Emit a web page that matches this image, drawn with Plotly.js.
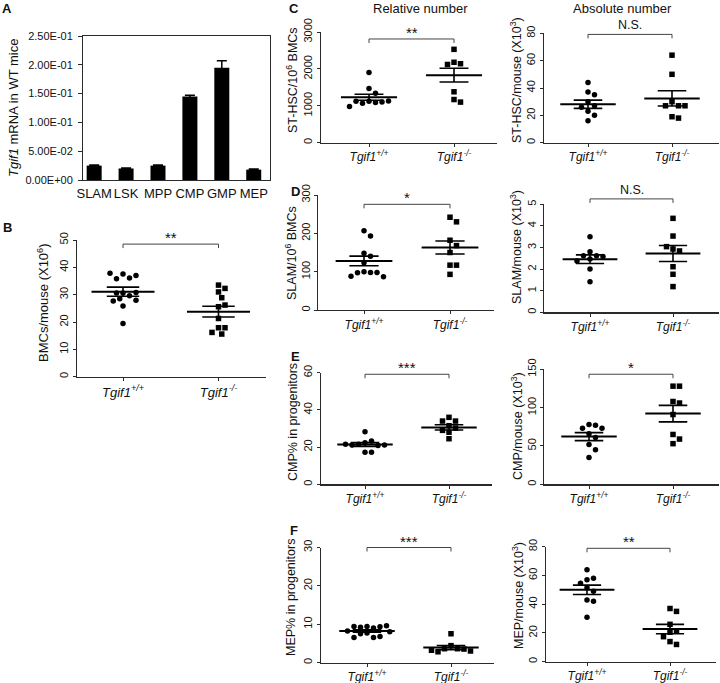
<!DOCTYPE html>
<html><head><meta charset="utf-8">
<script src="https://cdn.plot.ly/plotly-3.0.1.min.js"></script>
<style>html,body{margin:0;padding:0;background:#fff}#chart{width:720px;height:683px}</style>
</head><body><div id="chart"></div>
<script>
// ================= DATA =================
// Panel A: Tgif1 mRNA in WT mice
const cellTypes = ['SLAM', 'LSK', 'MPP', 'CMP', 'GMP', 'MEP'];
const tgif1mRNA = [0.025, 0.020, 0.025, 0.145, 0.195, 0.018];
const tgif1mRNAErr = [0.001, 0.001, 0.001, 0.002, 0.012, 0.001];
const mrnaTickVals = [0, 0.05, 0.10, 0.15, 0.20, 0.25];
const mrnaTickText = ['0.00E+00', '5.00E-02', '1.00E-01', '1.50E-01', '2.00E-01', '2.50E-01'];

const genotypes = ['<i>Tgif1<sup>+/+</sup></i>', '<i>Tgif1<sup>-/-</sup></i>'];

// Panel B: BMCs/mouse (x10^6)
const bmcWT = [37.6, 36.1, 35.8, 37.0, 37.8, 30.6, 29.6, 30.6, 30.8, 28.5, 27.7, 28.0, 25.9, 19.5];
const bmcKO = [33.5, 32.3, 31.0, 28.9, 25.6, 26.2, 21.3, 17.9, 17.9, 15.6, 16.2];
const bmcMean = [31.1, 23.8];
const bmcSEM = [1.65, 1.95];

// Panel C: ST-HSC
const sthscRelWT = [1900, 1470, 1340, 1120, 1090, 1070, 1100, 1120, 1130, 980];
const sthscRelKO = [2530, 2180, 2140, 2120, 1380, 1170, 1100];
const sthscRelMean = [1233, 1831];
const sthscRelSEM = [82, 185];
const sthscAbsWT = [44, 37, 35, 30, 27, 26, 23, 20, 16];
const sthscAbsKO = [64, 50, 30, 27, 27, 27, 19, 18];
const sthscAbsMean = [28.1, 32.4];
const sthscAbsSEM = [3.0, 5.6];

// Panel D: SLAM
const slamRelWT = [207, 193, 148, 140, 123, 100, 98, 97, 98, 88, 87];
const slamRelKO = [242, 230, 182, 168, 150, 117, 117, 93];
const slamRelMean = [128, 163];
const slamRelSEM = [12.5, 17];
const slamAbsWT = [3.5, 2.8, 2.62, 2.62, 2.58, 2.47, 2.38, 2.0, 1.42];
const slamAbsKO = [4.35, 3.53, 2.93, 2.84, 3.04, 2.11, 1.76, 1.19];
const slamAbsMean = [2.46, 2.72];
const slamAbsSEM = [0.2, 0.37];

// Panel E: CMP
const cmpRelWT = [28.3, 22.4, 23.3, 21.5, 20.8, 21.1, 21.1, 21.5, 17.2, 17.2];
const cmpRelKO = [36, 34, 34, 31.5, 30.2, 29, 28, 24.5];
const cmpRelMean = [21.4, 30.6];
const cmpRelSEM = [1.0, 1.4];
const cmpAbsWT = [78, 77, 73, 73, 66, 61, 52, 45, 35];
const cmpAbsKO = [128, 128, 108, 106, 91, 65, 59, 53];
const cmpAbsMean = [62.2, 92.2];
const cmpAbsSEM = [5.2, 10.8];

// Panel F: MEP
const mepRelWT = [9.4, 9.0, 9.2, 9.3, 9.4, 9.6, 8.2, 8.0, 7.7, 7.5, 6.5, 6.8, 6.5];
const mepRelKO = [7.5, 4.4, 3.6, 3.6, 3.5, 2.8, 3.0, 3.2];
const mepRelMean = [8.2, 3.9];
const mepRelSEM = [0.3, 0.55];
const mepAbsWT = [64, 57, 58, 54.5, 51.5, 49, 43, 42, 31];
const mepAbsKO = [37, 35, 26, 20.5, 21.3, 17.4, 14, 12];
const mepAbsMean = [50, 22.7];
const mepAbsSEM = [3.3, 3.3];

// ================= LAYOUT / STYLE =================
const W = 720, H = 683;
const FONT = 'Arial, "Liberation Sans", Helvetica, sans-serif';
const INK = '#111';
const LINE = '#2a2a2a';

const panels = [
  {n: 2, wt: bmcWT, ko: bmcKO, mean: bmcMean, sem: bmcSEM, sig: '**', title: 'BMCs/mouse (X10<sup>6</sup>)',
   g: {x0: 77, t0: 123, t1: 218.5, x1: 265.5, yT: 240, yB: 376.7, ymax: 50, dt: 10}, br: 0.97, tx: 43, ty: 303, big: true},
  {n: 3, wt: sthscRelWT, ko: sthscRelKO, mean: sthscRelMean, sem: sthscRelSEM, sig: '**', title: 'ST-HSC/10<sup>6</sup> BMCs',
   g: {x0: 321, t0: 369, t1: 454, x1: 497, yT: 32, yB: 142.7, ymax: 3000, dt: 1000}, br: 0.937, tx: 292, ty: 80},
  {n: 4, wt: sthscAbsWT, ko: sthscAbsKO, mean: sthscAbsMean, sem: sthscAbsSEM, sig: 'N.S.', title: 'ST-HSC/mouse (X10<sup>3</sup>)',
   g: {x0: 544, t0: 588, t1: 672, x1: 719, yT: 33.3, yB: 142.7, ymax: 80, dt: 20}, br: 0.99, tx: 516, ty: 80},
  {n: 5, wt: slamRelWT, ko: slamRelKO, mean: slamRelMean, sem: slamRelSEM, sig: '*', title: 'SLAM/10<sup>6</sup> BMCs',
   g: {x0: 318.3, t0: 364, t1: 450, x1: 494, yT: 195, yB: 310, ymax: 300, dt: 100}, br: 0.919, tx: 291, ty: 253},
  {n: 6, wt: slamAbsWT, ko: slamAbsKO, mean: slamAbsMean, sem: slamAbsSEM, sig: 'N.S.', title: 'SLAM/mouse (X10<sup>3</sup>)',
   g: {x0: 544.3, t0: 590, t1: 673, x1: 719, yT: 204.3, yB: 312.3, ymax: 5, dt: 1}, br: 1.05, tx: 516, ty: 247},
  {n: 7, wt: cmpRelWT, ko: cmpRelKO, mean: cmpRelMean, sem: cmpRelSEM, sig: '***', title: 'CMP% in progenitors',
   g: {x0: 321, t0: 365, t1: 449, x1: 492, yT: 372.7, yB: 484.3, ymax: 60, dt: 20}, br: 0.986, tx: 293, ty: 422},
  {n: 8, wt: cmpAbsWT, ko: cmpAbsKO, mean: cmpAbsMean, sem: cmpAbsSEM, sig: '*', title: 'CMP/mouse (X10<sup>3</sup>)',
   g: {x0: 544.3, t0: 589, t1: 673, x1: 719, yT: 369.3, yB: 484.3, ymax: 150, dt: 50}, br: 0.957, tx: 517, ty: 426},
  {n: 9, wt: mepRelWT, ko: mepRelKO, mean: mepRelMean, sem: mepRelSEM, sig: '***', title: 'MEP% in progenitors',
   g: {x0: 321, t0: 367, t1: 451, x1: 494, yT: 547.5, yB: 662.5, ymax: 30, dt: 10}, br: 1.0, tx: 291, ty: 598},
  {n: 10, wt: mepAbsWT, ko: mepAbsKO, mean: mepAbsMean, sem: mepAbsSEM, sig: '**', title: 'MEP/mouse (X10<sup>3</sup>)',
   g: {x0: 546, t0: 587, t1: 670, x1: 716, yT: 546.7, yB: 661.7, ymax: 80, dt: 20}, br: 0.986, tx: 518, ty: 596}
];

function paperAnn(text, xpx, ypx, font, extra) {
  return Object.assign({text: text, x: xpx / W, y: 1 - ypx / H, xref: 'paper', yref: 'paper',
    showarrow: false, xanchor: 'center', yanchor: 'middle', font: Object.assign({family: FONT, color: INK}, font)}, extra || {});
}

// simple beeswarm: spreads points horizontally so markers do not overlap (pixel space)
function swarm(vals, pxPerY, pxPerX, d) {
  const placed = [], offs = [];
  vals.forEach(v => {
    const y = v * pxPerY;
    let best = 0;
    for (let k = 0; k < 60; k++) {
      const c = k === 0 ? 0 : (k % 2 ? 1 : -1) * Math.ceil(k / 2) * d / 2;
      if (placed.every(p => (p.x - c) * (p.x - c) + (p.y - y) * (p.y - y) >= d * d)) { best = c; break; }
    }
    placed.push({x: best, y: y});
    offs.push(best / pxPerX);
  });
  return offs;
}

const traces = [];
const layout = {
  width: W, height: H, margin: {l: 0, r: 0, t: 0, b: 0},
  paper_bgcolor: '#fff', plot_bgcolor: 'rgba(0,0,0,0)', showlegend: false,
  font: {family: FONT, color: INK, size: 11},
  annotations: [], shapes: []
};

// ---- Panel A: bar chart ----
traces.push({
  type: 'bar', x: cellTypes, y: tgif1mRNA, xaxis: 'x', yaxis: 'y', width: 0.47,
  marker: {color: '#000', line: {width: 0}},
  error_y: {type: 'data', array: tgif1mRNAErr, visible: true, color: '#000', thickness: 1.5, width: 5}
});
layout.xaxis = {domain: [83 / W, 270 / W], range: [-0.35, 5.51], anchor: 'y', type: 'category',
  showline: true, mirror: true, linecolor: LINE, linewidth: 1, ticks: '', showgrid: false, zeroline: false,
  tickangle: 0, ticklabelstandoff: 1,
  tickfont: {size: 13, family: FONT, color: INK}, fixedrange: true};
layout.yaxis = {domain: [1 - 180 / H, 1 - 36 / H], range: [0, 0.25], anchor: 'x',
  showline: true, mirror: true, linecolor: LINE, linewidth: 1, ticks: 'outside', ticklen: 4, tickcolor: LINE,
  tickvals: mrnaTickVals, ticktext: mrnaTickText, showgrid: false, zeroline: false, ticklabelstandoff: 3,
  tickfont: {size: 11, family: FONT, color: INK}, fixedrange: true};
layout.annotations.push(paperAnn('<i>Tgif1</i> mRNA in WT mice', 13, 108, {size: 13}, {textangle: -90}));

// ---- Scatter panels ----
panels.forEach(p => {
  const g = p.g;
  const sp = g.t1 - g.t0;
  const xr = [(g.x0 - g.t0) / sp, 1 + (g.x1 - g.t1) / sp];
  const hPx = g.yB - g.yT;
  const pxPerY = hPx / g.ymax;
  const xa = 'x' + p.n, ya = 'y' + p.n;
  const d = 6.5;
  const wtOff = swarm(p.wt, pxPerY, sp, d);
  const koOff = swarm(p.ko, pxPerY, sp, d);
  const mk = (sym) => ({color: '#000', size: 5.5, symbol: sym, line: {width: 0}});
  traces.push({type: 'scatter', mode: 'markers', xaxis: xa, yaxis: ya, cliponaxis: false,
    x: wtOff.map(o => 0 + o), y: p.wt, marker: mk('circle'), name: 'Tgif1+/+'});
  traces.push({type: 'scatter', mode: 'markers', xaxis: xa, yaxis: ya, cliponaxis: false,
    x: koOff.map(o => 1 + o), y: p.ko, marker: mk('square'), name: 'Tgif1-/-'});
  const hw = 0.33;
  traces.push({type: 'scatter', mode: 'lines', xaxis: xa, yaxis: ya,
    x: [0 - hw, 0 + hw, null, 1 - hw, 1 + hw], y: [p.mean[0], p.mean[0], null, p.mean[1], p.mean[1]],
    line: {color: '#000', width: 2}, connectgaps: false});
  traces.push({type: 'scatter', mode: 'markers', xaxis: xa, yaxis: ya, x: [0, 1], y: p.mean,
    marker: {size: 1, opacity: 0},
    error_y: {type: 'data', array: p.sem, visible: true, color: '#000', thickness: 1.6, width: 0.17 * sp}});

  layout['xaxis' + p.n] = {domain: [g.x0 / W, g.x1 / W], range: xr, anchor: ya,
    showline: true, linecolor: LINE, linewidth: 1.2, ticks: 'outside', ticklen: 3, tickcolor: LINE,
    tickvals: [0, 1], ticktext: genotypes, showgrid: false, zeroline: false,
    tickfont: {size: p.big ? 13 : 12, family: FONT, color: INK}, fixedrange: true};
  layout['yaxis' + p.n] = {domain: [1 - g.yB / H, 1 - g.yT / H], range: [0, g.ymax], anchor: xa,
    showline: true, linecolor: LINE, linewidth: 1.2, ticks: 'outside', ticklen: 3, tickcolor: LINE,
    tick0: 0, dtick: g.dt, tickangle: -90, showgrid: false, zeroline: false,
    tickfont: {size: 11, family: FONT, color: INK}, fixedrange: true};

  // significance bracket
  const fx = i => (i - xr[0]) / (xr[1] - xr[0]);
  const drop = 4 / hPx;
  const sh = {type: 'line', xref: xa + ' domain', yref: ya + ' domain', line: {color: '#444', width: 1}};
  layout.shapes.push(Object.assign({}, sh, {x0: fx(0), x1: fx(1), y0: p.br, y1: p.br}));
  layout.shapes.push(Object.assign({}, sh, {x0: fx(0), x1: fx(0), y0: p.br, y1: p.br - drop}));
  layout.shapes.push(Object.assign({}, sh, {x0: fx(1), x1: fx(1), y0: p.br, y1: p.br - drop}));
  const isStar = p.sig.indexOf('*') >= 0;
  layout.annotations.push({text: p.sig, xref: xa + ' domain', yref: ya + ' domain', x: fx(0.5), y: p.br,
    showarrow: false, xanchor: 'center', yanchor: 'bottom', yshift: isStar ? -4 : 0,
    font: {family: FONT, color: INK, size: isStar ? 15 : 12.5}});

  layout.annotations.push(paperAnn(p.title, p.tx, p.ty, {size: p.big ? 13 : 12.5}, {textangle: -90}));
});

// Panel letters & headers
const bold = {size: 13};
layout.annotations.push(paperAnn('<b>A</b>', 7, 8, bold));
layout.annotations.push(paperAnn('<b>B</b>', 7, 227, bold));
layout.annotations.push(paperAnn('<b>C</b>', 294, 8, bold));
layout.annotations.push(paperAnn('<b>D</b>', 295, 191, bold));
layout.annotations.push(paperAnn('<b>E</b>', 295, 356, bold));
layout.annotations.push(paperAnn('<b>F</b>', 294, 530, bold));
layout.annotations.push(paperAnn('Relative number', 420, 8, {size: 13}));
layout.annotations.push(paperAnn('Absolute number', 622, 8, {size: 13}));

Plotly.newPlot('chart', traces, layout, {staticPlot: true, displayModeBar: false});
</script></body></html>
